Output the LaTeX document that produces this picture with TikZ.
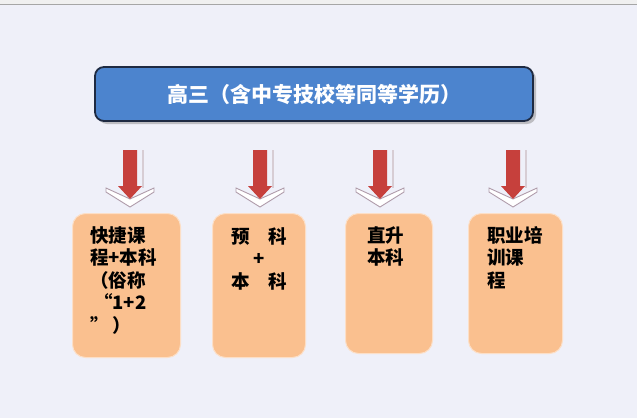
\documentclass[tikz,border=0pt]{standalone}
\usepackage{fontspec}
\setmainfont{Noto Sans CJK SC}
\usepackage{tikz}
\usetikzlibrary{positioning,shadows}
\definecolor{bgpale}{RGB}{239,240,249}
\definecolor{hdblue}{RGB}{76,132,206}
\definecolor{hdline}{RGB}{30,42,66}
\definecolor{boxpeach}{RGB}{250,192,143}
\definecolor{arrred}{RGB}{198,64,60}
\definecolor{chevgray}{RGB}{175,155,170}
\tikzstyle{header} = [rectangle, rounded corners=9pt, minimum width=438pt, minimum height=54pt, draw=hdline, line width=1.8pt, fill=hdblue, text=white, font=\fontsize{21}{24}\selectfont\bfseries, drop shadow={shadow xshift=3pt, shadow yshift=-3pt, fill=black!45}]
\tikzstyle{course} = [rectangle, rounded corners=13pt, draw=white!50!boxpeach, line width=1pt, fill=boxpeach, anchor=north west]
\tikzstyle{coursetext} = [inner sep=0pt, align=left, font=\fontsize{18.5}{22.5}\selectfont\bfseries]

\begin{document}
\begin{tikzpicture}[x=1pt,y=-1pt]
\useasboundingbox (0,0) rectangle (637,418);
\fill[bgpale] (0,0) rectangle (637,418);
\fill[black!6] (0,0) rectangle (637,4);
\draw[black!35, line width=0.8pt] (0,4) -- (637,4);

% Header box
\node (top) [header] at (314,94) {高三（含中专技校等同等学历）};

% Arrows
\foreach \ax in {130,260,380,513} {
  \draw[chevgray!50, line width=1.5pt] (\ax+13,150) -- (\ax+13,188);
  \filldraw[fill=white, draw=chevgray, line width=0.9pt] (\ax-24,188) -- (\ax,199) -- (\ax+24,188) -- (\ax+24,192) -- (\ax,207) -- (\ax-24,192) -- cycle;
  \fill[arrred] (\ax-7,150) -- (\ax+7,150) -- (\ax+7,186) -- (\ax+12,186) -- (\ax,199) -- (\ax-12,186) -- (\ax-7,186) -- cycle;
}

% Course boxes
\node (b1) [course, minimum width=108pt, minimum height=144pt] at (72,213) {};
\node (b2) [course, minimum width=93pt, minimum height=144pt] at (212,213) {};
\node (b3) [course, minimum width=87pt, minimum height=140pt] at (345,213) {};
\node (b4) [course, minimum width=94pt, minimum height=140pt] at (468,213) {};

% Box texts
\node (t1) [coursetext, below right=13pt and 18pt of b1.north west] {快捷课\\程+本科\\（俗称\\\hspace*{4pt}“1+2\\” ）};
\node (t2) [coursetext, align=center, below=14pt of b2.north] {预　科\\+\\本　科};
\node (t3) [coursetext, below right=13pt and 22pt of b3.north west] {直升\\本科};
\node (t4) [coursetext, below right=13pt and 19pt of b4.north west] {职业培\\训课\\程};
\end{tikzpicture}
\end{document}
